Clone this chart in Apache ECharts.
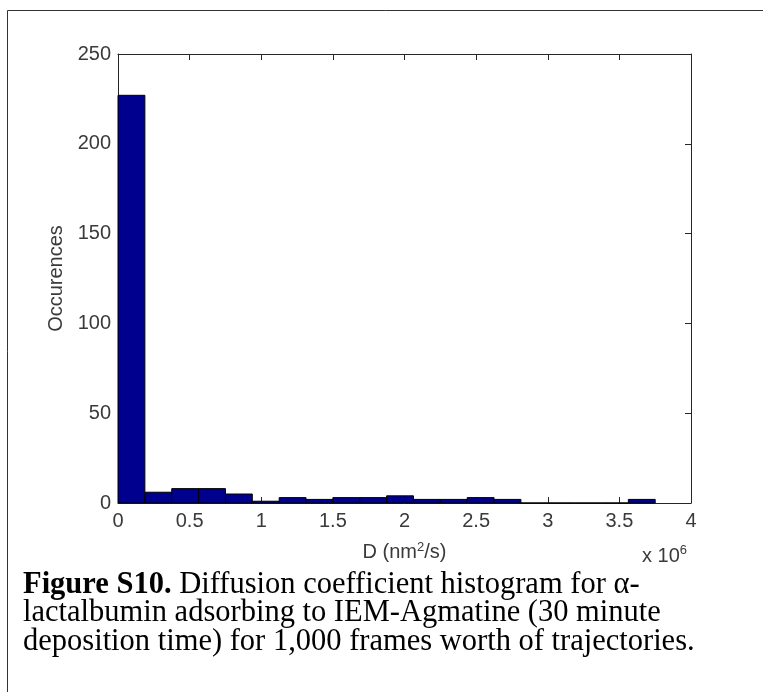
<!DOCTYPE html>
<html>
<head>
<meta charset="utf-8">
<script src="https://cdn.jsdelivr.net/npm/echarts@6/dist/echarts.min.js"></script>
<style>
  html, body { margin: 0; padding: 0; background: #fff; }
  #main { width: 763px; height: 692px; }
</style>
</head>
<body>
<div id="main"></div>
<script>
// histogram bins (D in nm^2/s), 20 bins of equal width
const binWidth = 187500;
const binLeft = [0, 187500, 375000, 562500, 750000, 937500, 1125000, 1312500, 1500000, 1687500,
                 1875000, 2062500, 2250000, 2437500, 2625000, 2812500, 3000000, 3187500, 3375000, 3562500];
const counts = [227, 6, 8, 8, 5, 1, 3, 2, 3, 3,
                4, 2, 2, 3, 2, 0, 0, 0, 0, 2];
const xTickLabels = ['0', '0.5', '1', '1.5', '2', '2.5', '3', '3.5', '4'];
const yTickLabels = ['0', '50', '100', '150', '200', '250'];

const barData = binLeft.map((x, i) => [x, x + binWidth, counts[i]]);

const sans = 'Liberation Sans, Arial, sans-serif';
const serif = 'Liberation Serif, Times New Roman, serif';
const axisColor = '#262626';
const labelColor = '#3a3a3a';

// one frame side of the MATLAB-style box axes
function frameAxis(extra) {
  return Object.assign({
    type: 'value',
    splitLine: { show: false },
    axisLine: { show: true, onZero: false, lineStyle: { color: axisColor, width: 1 } },
    axisTick: { show: true, inside: true, length: 6, lineStyle: { color: axisColor } }
  }, extra);
}

const chart = echarts.init(document.getElementById('main'));

chart.setOption({
  animation: false,
  backgroundColor: '#fff',
  title: {
    left: 23,
    top: 570.5,
    padding: 0,
    text: '{b|Figure S10.} Diffusion coefficient histogram for α-\nlactalbumin adsorbing to IEM-Agmatine (30 minute\ndeposition time) for 1,000 frames worth of trajectories.',
    textStyle: {
      fontFamily: serif,
      fontSize: 30.5,
      fontWeight: 'normal',
      lineHeight: 28.6,
      color: '#000',
      rich: {
        b: { fontFamily: serif, fontSize: 30.5, fontWeight: 'bold', lineHeight: 28.6, color: '#000' }
      }
    }
  },
  grid: { left: 118, right: 72, top: 54, bottom: 189 },
  xAxis: [
    frameAxis({
      min: 0, max: 4000000, interval: 500000,
      position: 'bottom',
      axisLabel: {
        margin: 8,
        fontFamily: sans, fontSize: 20, color: labelColor,
        formatter: (v, i) => xTickLabels[i]
      },
      name: 'D (nm{s|2}/s)',
      nameLocation: 'middle',
      nameGap: 38,
      nameTextStyle: {
        fontFamily: sans, fontSize: 20, color: labelColor, lineHeight: 23,
        rich: { s: { fontFamily: sans, fontSize: 13, color: labelColor, verticalAlign: 'top', lineHeight: 23 } }
      }
    }),
    frameAxis({
      min: 0, max: 4000000, interval: 500000,
      position: 'top',
      axisLabel: { show: false }
    })
  ],
  yAxis: [
    frameAxis({
      min: 0, max: 250, interval: 50,
      position: 'left',
      axisLabel: {
        margin: 7,
        fontFamily: sans, fontSize: 20, color: labelColor,
        formatter: (v, i) => yTickLabels[i]
      },
      name: 'Occurences',
      nameLocation: 'middle',
      nameRotate: 90,
      nameGap: 50,
      nameTextStyle: { fontFamily: sans, fontSize: 20, color: labelColor }
    }),
    frameAxis({
      min: 0, max: 250, interval: 50,
      position: 'right',
      axisLabel: { show: false }
    })
  ],
  graphic: [
    {
      type: 'rect',
      z: -10,
      shape: { x: 7.5, y: 10.5, width: 800, height: 800 },
      style: { fill: 'transparent', stroke: '#333', lineWidth: 1 }
    },
    {
      type: 'text',
      x: 642,
      y: 544,
      style: {
        text: 'x 10{s|6}',
        font: '20px ' + sans,
        fill: labelColor,
        lineHeight: 25,
        rich: { s: { fontFamily: sans, fontSize: 13, fill: labelColor, verticalAlign: 'top', lineHeight: 25 } }
      }
    }
  ],
  series: [
    {
      type: 'custom',
      xAxisIndex: 0,
      yAxisIndex: 0,
      data: barData,
      encode: { x: [0, 1], y: 2 },
      renderItem: (params, api) => {
        const p0 = api.coord([api.value(0), 0]);
        const p1 = api.coord([api.value(1), api.value(2)]);
        return {
          type: 'rect',
          shape: { x: p0[0], y: p1[1], width: p1[0] - p0[0], height: p0[1] - p1[1] },
          style: { fill: '#00008f', stroke: '#000', lineWidth: 1 }
        };
      }
    }
  ]
});
</script>
</body>
</html>
